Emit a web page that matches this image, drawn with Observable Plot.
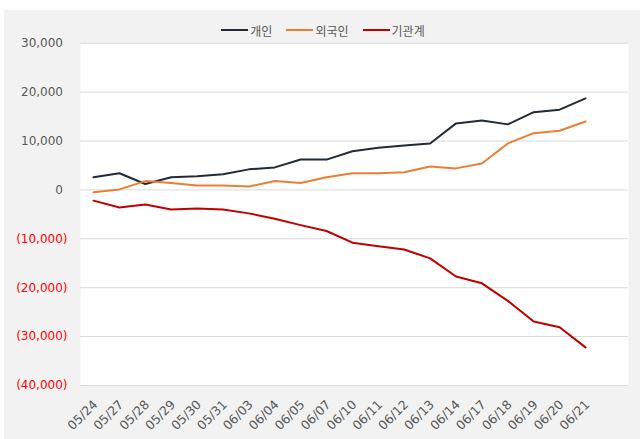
<!DOCTYPE html>
<html>
<head>
<meta charset="utf-8">
<script src="https://cdn.jsdelivr.net/npm/d3@7"></script>
<script src="https://cdn.jsdelivr.net/npm/@observablehq/plot@0.6"></script>
<style>
  html, body { margin: 0; padding: 0; background: #ffffff; }
  body { width: 644px; height: 439px; position: relative; overflow: hidden;
         font-family: "DejaVu Sans", sans-serif; }
  #panel { position: absolute; left: 4px; top: 10px; width: 636px; height: 429px; background: #f2f2f2; }
  #legend { position: absolute; left: 0; top: 11px; width: 636px; height: 18px;
            display: flex; justify-content: center; align-items: center;
            padding-left: 2px; box-sizing: border-box;
            font-family: "Noto Sans CJK KR", sans-serif; font-size: 12px; color: #595959; }
  .item { display: flex; align-items: center; margin: 0 7px; }
  .sw { width: 27px; height: 2.5px; margin-right: 2px; }
  #chart { position: absolute; left: 0; top: 0; }
  #chart svg { display: block; }
</style>
</head>
<body>
<div id="panel">
  <div id="chart"></div>
  <div id="legend"></div>
</div>
<script>
const dates = ["05/24","05/27","05/28","05/29","05/30","05/31","06/03","06/04","06/05","06/07",
               "06/10","06/11","06/12","06/13","06/14","06/17","06/18","06/19","06/20","06/21"];
const seriesNames = ["개인", "외국인", "기관계"];
const seriesColors = ["#222a35", "#ed7d31", "#c00000"];
const individual = [2600, 3400, 1200, 2600, 2800, 3200, 4200, 4600, 6200, 6200,
                    7900, 8600, 9100, 9500, 13600, 14200, 13400, 15900, 16400, 18700];
const foreign = [-500, 100, 1800, 1400, 900, 900, 700, 1800, 1400, 2600,
                 3400, 3400, 3600, 4800, 4400, 5400, 9500, 11600, 12100, 14000];
const institution = [-2200, -3600, -3000, -4000, -3800, -4000, -4800, -5900, -7200, -8400,
                     -10800, -11500, -12200, -14000, -17700, -19100, -22700, -26900, -28100, -32200];
const yTicks = [30000, 20000, 10000, 0, -10000, -20000, -30000, -40000];

const allSeries = [individual, foreign, institution];
const rows = [];
seriesNames.forEach((name, i) => {
  dates.forEach((d, j) => rows.push({date: d, value: allSeries[i][j], series: name}));
});

// legend
const legend = document.getElementById("legend");
seriesNames.forEach((name, i) => {
  const it = document.createElement("div");
  it.className = "item";
  const sw = document.createElement("div");
  sw.className = "sw";
  sw.style.background = seriesColors[i];
  const tx = document.createElement("span");
  tx.textContent = name;
  it.appendChild(sw); it.appendChild(tx);
  legend.appendChild(it);
});

const fmt = d3.format(",");
const yFmt = d => d < 0 ? `(${fmt(-d)})` : fmt(d);

const chart = Plot.plot({
  width: 636,
  height: 429,
  marginLeft: 76,
  marginRight: 12,
  marginTop: 32.7,
  marginBottom: 54,
  style: {background: "transparent", fontFamily: "'DejaVu Sans', sans-serif", fontSize: "12px"},
  x: {type: "point", domain: dates, padding: 0, round: false, insetLeft: 13, insetRight: 43},
  y: {domain: [-40000, 30000]},
  color: {domain: seriesNames, range: seriesColors},
  marks: [
    Plot.frame({fill: "#ffffff", stroke: null}),
    Plot.ruleY(yTicks, {stroke: "#d9d9d9", strokeWidth: 1}),
    Plot.axisY(yTicks.filter(d => d >= 0), {tickSize: 0, tickPadding: 13, dx: -4.5, tickFormat: yFmt, fill: "#595959", label: null, fontSize: 12}),
    Plot.axisY(yTicks.filter(d => d < 0), {tickSize: 0, tickPadding: 13, tickFormat: yFmt, fill: "#ff0000", label: null, fontSize: 12}),
    Plot.axisX({tickSize: 0, tickPadding: 17, dx: 2, tickRotate: -45, fill: "#595959", label: null, fontSize: 12.5}),
    Plot.line(rows, {x: "date", y: "value", z: "series", stroke: "series", strokeWidth: 2, curve: "linear"})
  ]
});
document.getElementById("chart").appendChild(chart);
</script>
</body>
</html>
